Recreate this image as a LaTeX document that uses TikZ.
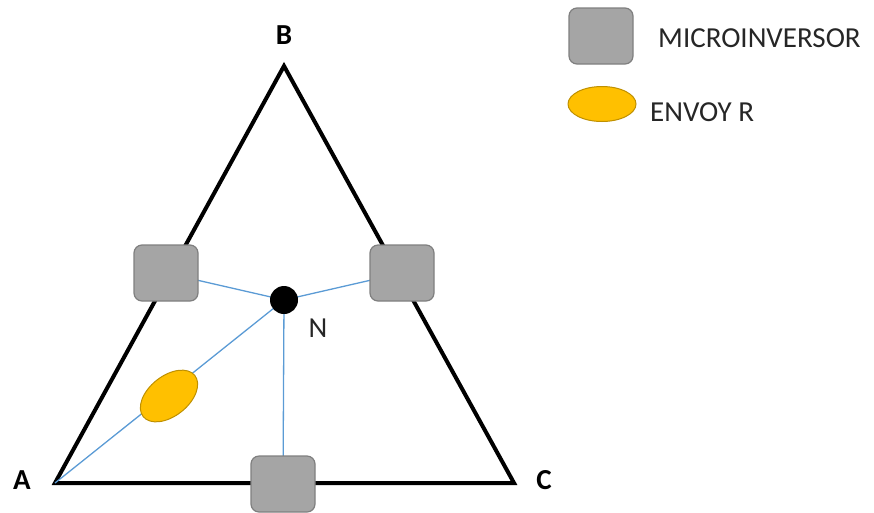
\documentclass[tikz,border=0pt]{standalone}
\usepackage{fontspec}
\setmainfont{Carlito}
\usetikzlibrary{shapes.geometric}
\definecolor{mgray}{HTML}{A5A5A5}
\definecolor{mgrayb}{HTML}{7F7F7F}
\definecolor{envoy}{HTML}{FFC000}
\definecolor{envoyb}{HTML}{BF9000}
\definecolor{wire}{HTML}{5B9BD5}
\tikzset{
  micro/.style={draw=mgrayb, fill=mgray, line width=1.2pt, rounded corners=8pt, minimum width=64pt, minimum height=56pt, inner sep=0pt},
  envoyshape/.style={draw=envoyb, fill=envoy, line width=1pt, ellipse, minimum width=66pt, minimum height=40pt, inner sep=0pt},
  wireline/.style={draw=wire, line width=1.3pt},
  tri/.style={draw=black, line width=4pt, line join=miter},
  dot/.style={circle, fill=black, minimum size=28pt, inner sep=0pt},
  vlabel/.style={font=\fontsize{29}{29}\selectfont\bfseries, inner sep=0pt},
  nlabel/.style={font=\fontsize{29}{29}\selectfont, inner sep=0pt, text=black!85},
  legtext/.style={font=\fontsize{29}{29}\selectfont, anchor=west, inner sep=0pt, text=black!85},
}
\begin{document}
\begin{tikzpicture}[x=1pt,y=-1pt]
\useasboundingbox (0,0) rectangle (874,512);
\coordinate (A) at (55,483);
\coordinate (B) at (284,66);
\coordinate (C) at (514,483);
\draw[tri] (A) -- (B) -- (C) -- cycle;
\coordinate (N) at (284,300);
\coordinate (ML) at (166,273);
\coordinate (MR) at (402,273);
\coordinate (MB) at (283,484);
\draw[wireline] (A) -- (N);
\draw[wireline] (ML) -- (N);
\draw[wireline] (MR) -- (N);
\draw[wireline] (MB) -- (N);
\node[micro] (MLn) at (ML) {};
\node[micro] (MRn) at (MR) {};
\node[micro] (MBn) at (MB) {};
\node[dot] (Nn) at (N) {};
\node[envoyshape, rotate=38.6] (E) at (169,396) {};
\node[vlabel] (LB) at (284,35) {B};
\node[vlabel] (LA) at (22,480) {A};
\node[vlabel] (LC) at (544,480) {C};
\node[nlabel] (LN) at (318,328) {N};
\node[micro] (LM) at (601,36) {};
\node[legtext] (TM) at (658,38) {MICROINVERSOR};
\node[envoyshape, minimum width=68pt, minimum height=35pt] (LE) at (602,104) {};
\node[legtext] (TE) at (650,112) {ENVOY R};
\end{tikzpicture}
\end{document}
